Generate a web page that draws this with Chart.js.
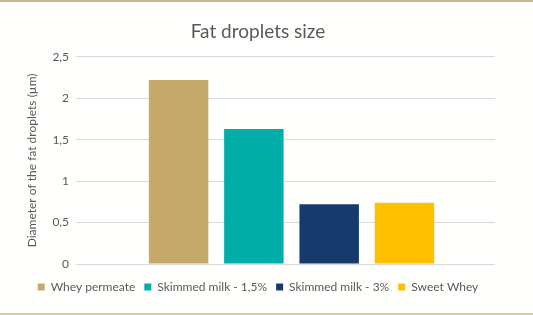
<!DOCTYPE html>
<html>
<head>
<meta charset="utf-8">
<script src="https://cdn.jsdelivr.net/npm/chart.js@4"></script>
<style>
  html, body { margin: 0; padding: 0; background: #ffffff; }
  #wrap {
    width: 533px; height: 315px; box-sizing: border-box;
    border-top: 2px solid #c8b88c; border-bottom: 2px solid #d9c99a;
    background: #fffffd;
  }
</style>
</head>
<body>
<div id="wrap"><canvas id="chart" width="533" height="311"></canvas></div>
<script>
// Данные графика
const categories = [''];
const seriesNames = ['Whey permeate', 'Skimmed milk - 1,5%', 'Skimmed milk - 3%', 'Sweet Whey'];
const seriesValues = [2.22, 1.63, 0.72, 0.74];
const seriesColors = ['#c5a96b', '#00ada9', '#173a6e', '#ffc000'];
const yTicks = [0, 0.5, 1, 1.5, 2, 2.5];

const fontFamily = 'Lato, sans-serif';
const textColor = '#595959';

const ctx = document.getElementById('chart').getContext('2d');
new Chart(ctx, {
    type: 'bar',
    data: {
        labels: categories,
        datasets: seriesNames.map((name, i) => ({
            label: name,
            data: [seriesValues[i]],
            backgroundColor: seriesColors[i],
            borderWidth: 0,
            categoryPercentage: 0.74,
            barPercentage: 0.79
        }))
    },
    options: {
        responsive: false,
        animation: false,
        layout: { padding: { left: 21, right: 38, top: 10, bottom: 10 } },
        plugins: {
            title: {
                display: true,
                text: 'Fat droplets size',
                color: textColor,
                font: { family: fontFamily, size: 19, weight: 'normal' },
                padding: { top: 8, bottom: 14 }
            },
            legend: {
                position: 'bottom',
                labels: {
                    color: textColor,
                    font: { family: fontFamily, size: 12 },
                    boxWidth: 7,
                    boxHeight: 7,
                    padding: 9
                }
            },
            tooltip: { enabled: false }
        },
        scales: {
            x: {
                grid: { display: false },
                border: { display: false },
                ticks: { display: false }
            },
            y: {
                min: 0,
                max: 2.5,
                afterBuildTicks: axis => { axis.ticks = yTicks.map(v => ({ value: v })); },
                grid: { color: '#d9d9d9', lineWidth: 1, tickLength: 12 },
                border: { display: false },
                ticks: {
                    color: textColor,
                    font: { family: fontFamily, size: 12 },
                    padding: 7,
                    callback: v => String(v).replace('.', ',')
                },
                title: {
                    display: true,
                    text: 'Diameter of the fat droplets (µm)',
                    color: textColor,
                    font: { family: fontFamily, size: 12 },
                    padding: { bottom: 6 }
                }
            }
        }
    }
});
</script>
</body>
</html>
